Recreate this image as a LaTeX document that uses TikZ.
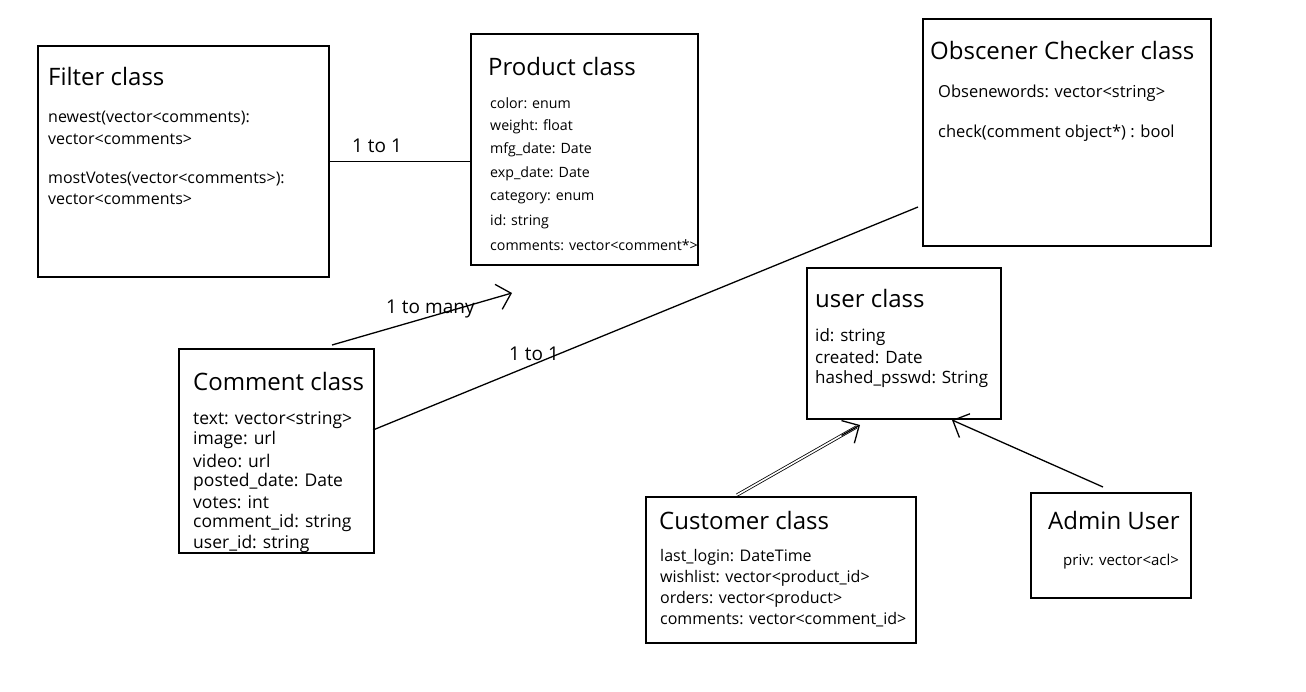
\documentclass[tikz,border=0pt]{standalone}
\usepackage{fontspec}
\setmainfont{Open Sans}
\usetikzlibrary{arrows.meta,calc}
\begin{document}
\begin{tikzpicture}[x=1pt,y=-1pt,
  box/.style={draw, line width=1.6pt, inner sep=0pt, anchor=north west},
  ttl/.style={anchor=west, inner sep=0pt, font=\fontsize{24}{28}\selectfont},
  body/.style={anchor=west, inner sep=0pt, font=\fontsize{#1}{18}\selectfont},
  body/.default=15,
  lbl/.style={anchor=west, inner sep=0pt, font=\fontsize{19}{22}\selectfont},
  conn/.style={line width=1.3pt},
  tip/.style={-{Straight Barb[length=13pt,width=26pt,line width=1.3pt]}}]
\useasboundingbox[fill=white] (0,0) rectangle (1306,691);

% boxes
\node[box, minimum width=291pt, minimum height=231pt] (filter) at (37,45) {};
\node[box, minimum width=227pt, minimum height=231pt] (product) at (470,33) {};
\node[box, minimum width=288pt, minimum height=227pt] (obsc) at (922,18) {};
\node[box, minimum width=194pt, minimum height=151pt] (user) at (806,267) {};
\node[box, minimum width=195pt, minimum height=204pt] (comment) at (178,348) {};
\node[box, minimum width=270pt, minimum height=146pt] (customer) at (645,496) {};
\node[box, minimum width=160pt, minimum height=105pt] (admin) at (1030,492) {};

% Filter
\node[ttl] (filterT) at (48,76) {Filter class};
\node[body=16] (f1) at (48,118) {newest(vector<comments):};
\node[body=16] (f2) at (48,139) {vector<comments>};
\node[body=16] (f3) at (48,179) {mostVotes(vector<comments>):};
\node[body=16] (f4) at (48,199) {vector<comments>};

% Product
\node[ttl] (productT) at (488,66) {Product class};
\foreach \t/\y [count=\i] in {color: enum/103, weight: float/127, mfg\_date: Date/150, exp\_date: Date/174, category: enum/198, id: string/222, comments: vector<comment*>/245}
  \node[body=14.2] (p\i) at (490,\y) {\t};

% Obscener
\node[ttl] (obscT) at (930,50) {Obscener Checker class};
\node[body=16.5] (o1) at (938,93) {Obsenewords: vector<string>};
\node[body=16.5] (o2) at (938,133) {check(comment object*) : bool};

% user
\node[ttl] (userT) at (815,298) {user class};
\foreach \t/\y [count=\i] in {id: string/337, created: Date/357, hashed\_psswd: String/379}
  \node[body=17] (u\i) at (815,\y) {\t};

% Comment
\node[ttl] (commentT) at (193,381) {Comment class};
\foreach \t/\y [count=\i] in {text: vector<string>/420, image: url/440, video: url/461, posted\_date: Date/482, votes: int/502, comment\_id: string/523, user\_id: string/544}
  \node[body=17.5] (c\i) at (193,\y) {\t};

% Customer
\node[ttl] (customerT) at (659,520) {Customer class};
\foreach \t/\y [count=\i] in {last\_login: DateTime/557, wishlist: vector<product\_id>/578, orders: vector<product>/599, comments: vector<comment\_id>/620}
  \node[body=16] (cu\i) at (660,\y) {\t};

% Admin
\node[ttl] (adminT) at (1048,520) {Admin User};
\node[body=15] (a1) at (1063,562) {priv: vector<acl>};

% connector end points
\coordinate (fpEnd) at (filter.east -| product.west);
\coordinate (cpStart) at (332,345);
\coordinate (cpEnd) at (512,293);
\coordinate (coStart) at (373,430);
\coordinate (coEnd) at (918,207);
\coordinate (cuStart) at (737,495);
\coordinate (uEndL) at (860,425);
\coordinate (adStart) at (1103,487);
\coordinate (uEndR) at (952,420);

% connectors
\draw[conn] (filter.east) -- (fpEnd);
\node[lbl] (l1) at (352,146) {1 to 1};

\draw[conn, tip] (cpStart) -- (cpEnd);
\node[lbl] (l2) at (386,309) {1 to many};

\draw[conn] (coStart) -- (coEnd);
\node[lbl] (l3) at (509,354) {1 to 1};

\draw[line width=0.8pt, double, double distance=1.6pt, shorten >=4pt] (cuStart) -- (uEndL);
\draw[conn, tip] ($(cuStart)!0.85!(uEndL)$) -- (uEndL);

\draw[conn, tip] (adStart) -- (uEndR);
\end{tikzpicture}
\end{document}
